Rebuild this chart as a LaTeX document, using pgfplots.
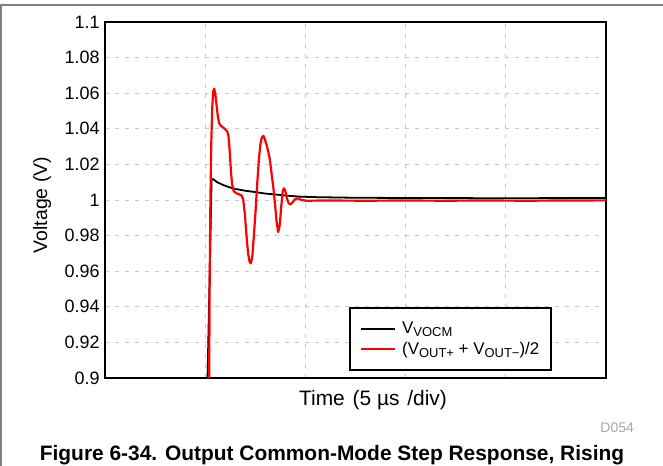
\documentclass[border=0pt]{standalone}
\usepackage{fontspec}
\setmainfont{Liberation Sans}
\usepackage{pgfplots}
\pgfplotsset{compat=1.18}
\definecolor{gridgray}{HTML}{C8C8C8}
\definecolor{framegray}{HTML}{808080}
\definecolor{codegray}{HTML}{A8A8A8}
\definecolor{tired}{HTML}{FF0000}
\begin{document}
\begin{tikzpicture}[x=1bp,y=1bp]
\path[use as bounding box] (0,0) rectangle (663,466);
\draw[framegray, line width=1.2bp] (0,461) -- (663,461);
\draw[framegray, line width=1.2bp] (1,461) -- (1,0);
\begin{axis}[
  at={(105bp,88bp)}, anchor=south west,
  width=501bp, height=356bp, scale only axis,
  xmin=0, xmax=25, ymin=0.9, ymax=1.1,
  xtick={0,5,10,15,20,25}, xticklabels={},
  ytick={0.9,0.92,0.94,0.96,0.98,1,1.02,1.04,1.06,1.08,1.1},
  yticklabels={0.9,0.92,0.94,0.96,0.98,1,1.02,1.04,1.06,1.08,1.1},
  major tick length=0,
  grid=major,
  major grid style={gridgray, dash pattern=on 4bp off 6bp, line width=0.8bp},
  axis line style={line width=2.2bp},
  tick label style={font=\fontsize{18}{20}\selectfont},
  yticklabel style={xshift=-2bp},
  legend style={at={(rel axis cs:0.487,0.199)}, anchor=north west, draw=black,
    line width=2bp, font=\fontsize{17}{19}\selectfont, inner xsep=10bp, inner ysep=12bp,
    row sep=3bp, column sep=4bp},
  legend cell align=left,
  legend image code/.code={\draw[#1] (0bp,0bp) -- (34bp,0bp);},
]
\addplot[black, line width=1.8bp] coordinates {
(5.08,0.88) (5.32,1.0115) (5.40,1.0117) (5.6,1.0100) (5.9,1.0084) (6.2,1.0072)
(6.5,1.0062) (7.0,1.0052) (7.4,1.0046) (8.0,1.0036) (8.4,1.0032) (9.0,1.0025)
(9.7,1.0019) (10.5,1.0016) (12.2,1.0013) (15,1.0011) (20,1.0010) (25,1.0011)
};
\addlegendentry{V\raisebox{-3bp}{\fontsize{13}{13}\selectfont VOCM}}
\addplot[tired, line width=2.2bp, line join=round] coordinates {
(5.18,0.85) (5.22,0.95) (5.26,1.00) (5.30,1.03) (5.35,1.052) (5.40,1.061)
(5.45,1.0625) (5.50,1.060) (5.56,1.054) (5.63,1.047) (5.70,1.043) (5.80,1.0415)
(5.92,1.0405) (6.02,1.0395) (6.10,1.0385) (6.16,1.036) (6.22,1.028) (6.28,1.017)
(6.34,1.009) (6.42,1.005) (6.55,1.0038) (6.70,1.0032) (6.82,1.0025) (6.90,1.000)
(6.98,0.992) (7.06,0.980) (7.14,0.970) (7.22,0.965) (7.28,0.9645) (7.35,0.968)
(7.43,0.980) (7.52,0.995) (7.60,1.010) (7.68,1.023) (7.76,1.032) (7.84,1.0355)
(7.91,1.036) (7.98,1.034) (8.06,1.031) (8.15,1.027) (8.23,1.0225) (8.32,1.014)
(8.40,1.007) (8.48,0.998) (8.56,0.988) (8.64,0.982) (8.72,0.986) (8.80,0.997)
(8.87,1.005) (8.93,1.0066) (9.00,1.005) (9.08,1.001) (9.17,0.998) (9.27,0.9976)
(9.38,0.9990) (9.50,1.0006) (9.64,1.0009) (9.80,1.0000) (10.05,0.9996) (11,0.9997)
(13,0.9996) (15,0.9997) (17,0.9996) (19,0.9997) (21,0.9996) (23,0.9997) (25,0.9998)
};
\addlegendentry{(V\raisebox{-3bp}{\fontsize{13}{13}\selectfont OUT+} + V\raisebox{-3bp}{\fontsize{13}{13}\selectfont OUT−})/2}
\end{axis}
\node[anchor=base, font=\fontsize{21}{23}\selectfont] at (373,60) {Time\hspace{2bp} (5 µs\hspace{2bp} /div)};
\node[rotate=90, anchor=base, font=\fontsize{19.5}{21}\selectfont] at (47,261) {Voltage (V)};
\node[anchor=base east, font=\fontsize{14}{16}\selectfont, text=codegray, inner sep=0pt] at (634,33) {D054};
\node[anchor=base, font=\fontsize{21}{23}\selectfont\bfseries] at (332,5) {Figure 6-34. Output Common-Mode Step Response, Rising};
\end{tikzpicture}
\end{document}
